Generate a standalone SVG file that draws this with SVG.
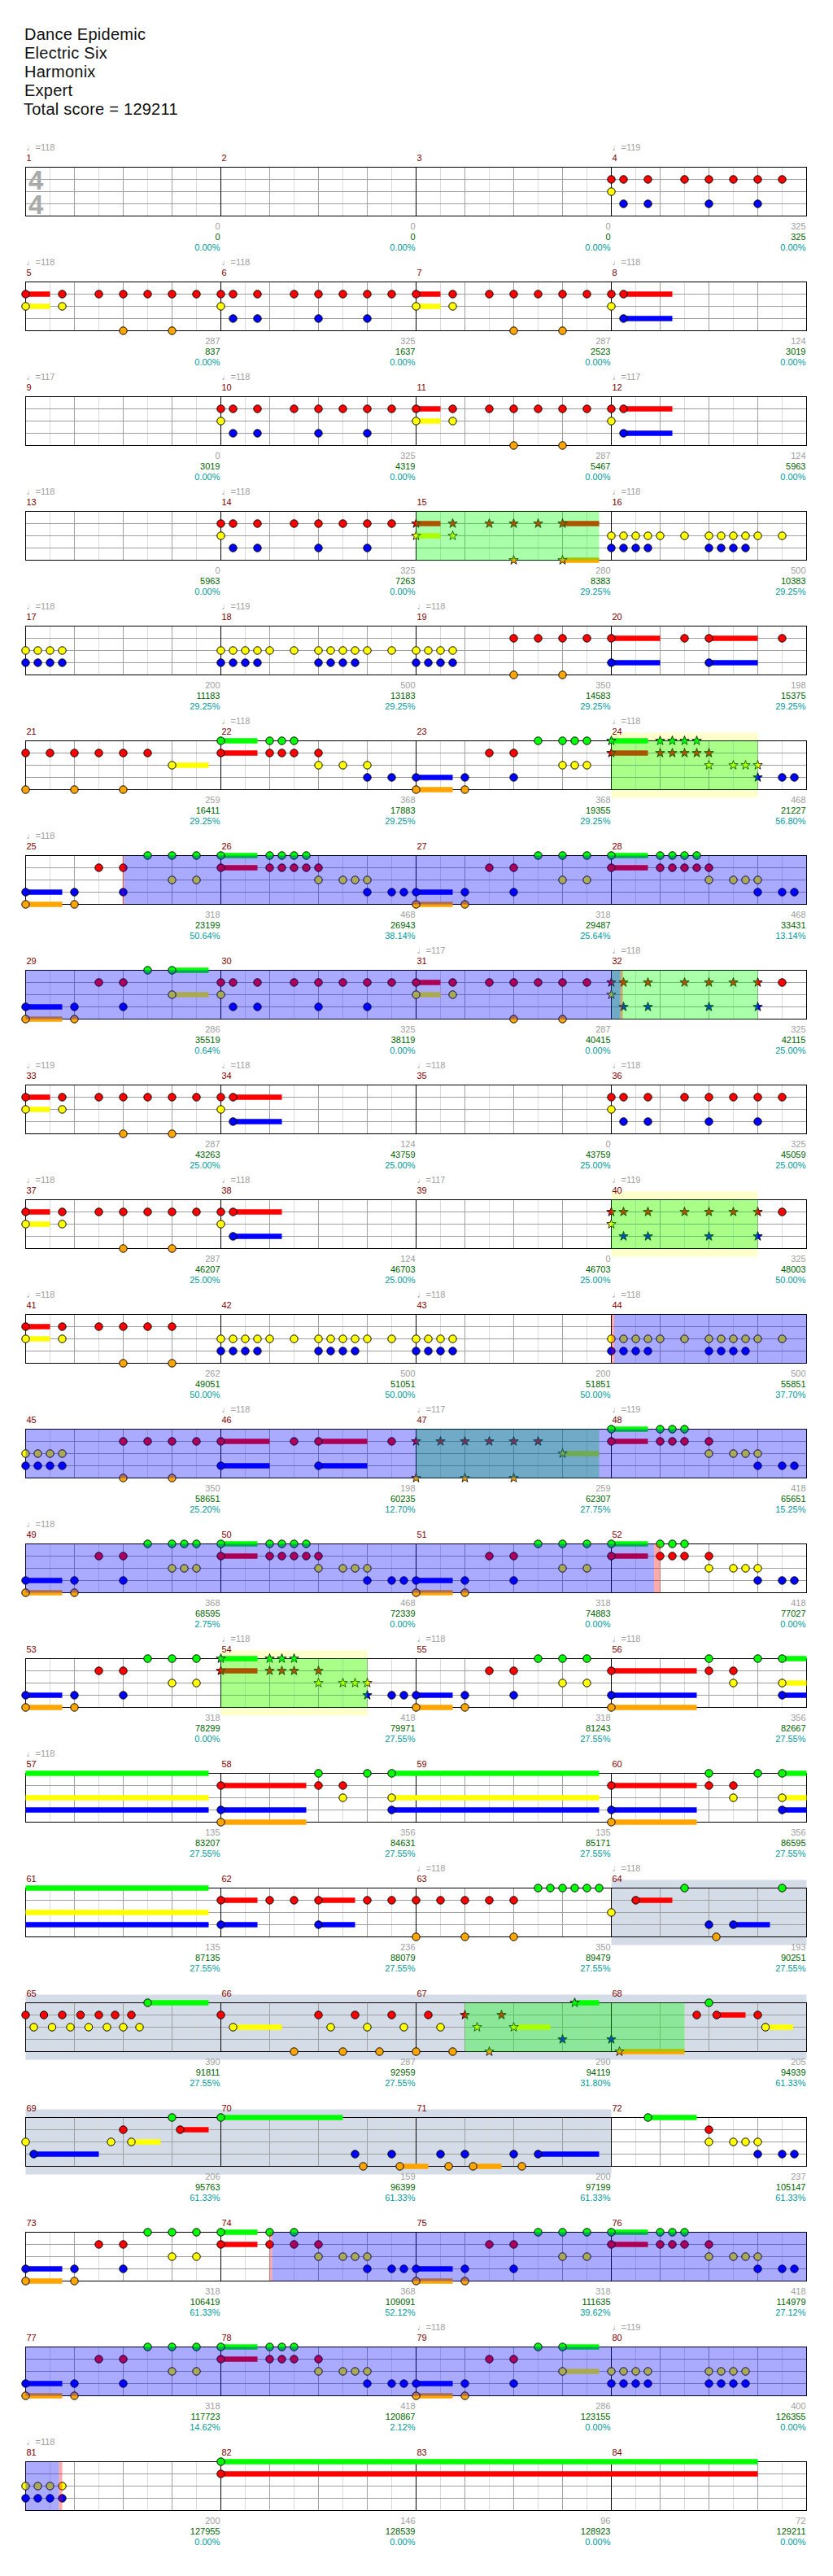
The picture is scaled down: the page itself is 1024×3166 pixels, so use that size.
<svg xmlns="http://www.w3.org/2000/svg" width="1024" height="3166" viewBox="0 0 1024 3166">
<style>
text{font-family:"Liberation Sans",Arial,"DejaVu Sans",sans-serif;font-size:11px}
.hd{font-size:20px;letter-spacing:.25px;fill:#111}
.ts{font-size:33px;font-weight:bold;fill:#aaa}
.tp{fill:#a0a0a0}
.mn{fill:#800000}
.n1,.n2,.n3{text-anchor:end}
.n1{fill:#a0a0a0}.n2{fill:#006400}.n3{fill:#009a9a}
.sg{fill:#0f0}.sr{fill:#f00}.sy{fill:#ff0}.sb{fill:#00f}.so{fill:#ffa500}
.og{fill:#0f0;fill-opacity:.333}.ob{fill:#00f;fill-opacity:.333}.op{fill:#f00;fill-opacity:.333}
.yb{fill:#ffc}.gb{fill:#d4dce8}
</style>
<defs>
<circle id="G" r="4.7" fill="#0f0" stroke="#000"/>
<circle id="R" cy="15" r="4.7" fill="#f00" stroke="#000"/>
<circle id="Y" cy="30" r="4.7" fill="#ff0" stroke="#000"/>
<circle id="B" cy="45" r="4.7" fill="#00f" stroke="#000"/>
<circle id="O" cy="60" r="4.7" fill="#ffa500" stroke="#000"/>
<path id="st" d="M0,-6L1.41,-1.94L5.71,-1.85L2.28,0.74L3.53,4.85L0,2.4L-3.53,4.85L-2.28,0.74L-5.71,-1.85L-1.41,-1.94Z" stroke="#000" stroke-width=".8"/>
<use id="sG" href="#st" fill="#0f0"/>
<use id="sR" href="#st" y="15" fill="#f00"/>
<use id="sY" href="#st" y="30" fill="#ff0"/>
<use id="sB" href="#st" y="45" fill="#00f"/>
<use id="sO" href="#st" y="60" fill="#ffa500"/>
<g id="grid" fill="none">
<path d="M30,0V60M90,0V60M150,0V60M210,0V60M270,0V60M330,0V60M390,0V60M450,0V60M510,0V60M570,0V60M630,0V60M690,0V60M750,0V60M810,0V60M870,0V60M930,0V60" stroke="#dcdcdc"/>
<path d="M0,15H960M0,30H960M0,45H960" stroke="#a0a0a0"/>
<path d="M60,0V60M120,0V60M180,0V60M300,0V60M360,0V60M420,0V60M540,0V60M600,0V60M660,0V60M780,0V60M840,0V60M900,0V60" stroke="#a0a0a0"/>
<path d="M240,0V60M480,0V60M720,0V60" stroke="#000"/>
<rect width="960" height="60" stroke="#000"/>
</g>
<g id="P4"><use href="#R"/><use href="#R" x="15"/><use href="#R" x="45"/><use href="#R" x="90"/><use href="#R" x="120"/><use href="#R" x="150"/><use href="#R" x="180"/><use href="#R" x="210"/><use href="#Y"/><use href="#B" x="15"/><use href="#B" x="45"/><use href="#B" x="120"/><use href="#B" x="180"/></g>
<g id="P5"><rect class="sr" y="11.75" width="30" height="6.5"/><rect class="sy" y="26.75" width="30" height="6.5"/><use href="#R"/><use href="#R" x="45"/><use href="#R" x="90"/><use href="#R" x="120"/><use href="#R" x="150"/><use href="#R" x="180"/><use href="#R" x="210"/><use href="#Y"/><use href="#Y" x="45"/><use href="#O" x="120"/><use href="#O" x="180"/></g>
<g id="P8"><rect class="sr" x="15" y="11.75" width="60" height="6.5"/><rect class="sb" x="15" y="41.75" width="60" height="6.5"/><use href="#R"/><use href="#R" x="15"/><use href="#Y"/><use href="#B" x="15"/></g>
<g id="Q4"><use href="#Y"/><use href="#Y" x="15"/><use href="#Y" x="30"/><use href="#Y" x="45"/><use href="#B"/><use href="#B" x="15"/><use href="#B" x="30"/><use href="#B" x="45"/></g>
<g id="PY2"><use href="#Q4"/><use href="#Y" x="60"/><use href="#Y" x="90"/><use href="#Y" x="120"/><use href="#Y" x="135"/><use href="#Y" x="150"/><use href="#Y" x="165"/><use href="#Y" x="180"/><use href="#Y" x="210"/><use href="#B" x="120"/><use href="#B" x="135"/><use href="#B" x="150"/><use href="#B" x="165"/></g>
<g id="A0"><rect class="sb" y="41.75" width="45" height="6.5"/><rect class="so" y="56.75" width="45" height="6.5"/><use href="#B"/><use href="#B" x="60"/><use href="#B" x="120"/><use href="#O"/><use href="#O" x="60"/><use href="#R" x="90"/><use href="#R" x="120"/></g>
<g id="A"><use href="#A0"/><use href="#G" x="150"/><use href="#G" x="180"/><use href="#G" x="210"/><use href="#Y" x="180"/><use href="#Y" x="210"/></g>
<g id="D0"><rect class="sg" y="-3.25" width="45" height="6.5"/><rect class="sr" y="11.75" width="45" height="6.5"/><use href="#G"/><use href="#G" x="60"/><use href="#G" x="75"/><use href="#G" x="90"/><use href="#R"/><use href="#R" x="60"/><use href="#R" x="75"/><use href="#R" x="90"/><use href="#R" x="120"/><use href="#Y" x="120"/><use href="#Y" x="150"/><use href="#Y" x="165"/><use href="#Y" x="180"/><use href="#B" x="180"/><use href="#B" x="210"/><use href="#B" x="225"/></g>
<g id="D4"><use href="#D0"/><use href="#G" x="105"/><use href="#R" x="105"/></g>
<g id="SP4"><use href="#sR"/><use href="#sR" x="15"/><use href="#sR" x="45"/><use href="#sR" x="90"/><use href="#sR" x="120"/><use href="#sR" x="150"/><use href="#sR" x="180"/><use href="#sY"/><use href="#sB" x="15"/><use href="#sB" x="45"/><use href="#sB" x="120"/><use href="#sB" x="180"/><use href="#R" x="210"/></g>
<g id="E56"><rect class="sr" y="11.75" width="105" height="6.5"/><rect class="sb" y="41.75" width="105" height="6.5"/><rect class="so" y="56.75" width="105" height="6.5"/><use href="#R"/><use href="#R" x="120"/><use href="#R" x="150"/><use href="#B"/><use href="#O"/><use href="#G" x="120"/><use href="#G" x="180"/><use href="#Y" x="150"/></g>
</defs>
<rect width="1024" height="3166" fill="#fff"/>
<g id="header">
<text class="hd" x="30" y="49.3">Dance Epidemic</text>
<text class="hd" x="30" y="72.3">Electric Six</text>
<text class="hd" x="30" y="95.3">Harmonix</text>
<text class="hd" x="30" y="118.3">Expert</text>
<text class="hd" x="29" y="141.3">Total score = 129211</text>
</g>

<g id="r1" transform="translate(0,205.5)">
<use href="#grid" x="31.5"/>
<text class="ts"><tspan x="35" y="27">4</tspan><tspan x="35" y="57">4</tspan></text>
<g id="m1" transform="translate(31.5,0)"><text class="tp" x="1" y="-20.5">♩=118</text><text class="mn" x="1" y="-7.5">1</text><text class="n1" x="239" y="76.5">0</text><text class="n2" x="239" y="89.5">0</text><text class="n3" x="239" y="102.5">0.00%</text></g>
<g id="m2" transform="translate(271.5,0)"><text class="mn" x="1" y="-7.5">2</text><text class="n1" x="239" y="76.5">0</text><text class="n2" x="239" y="89.5">0</text><text class="n3" x="239" y="102.5">0.00%</text></g>
<g id="m3" transform="translate(511.5,0)"><text class="mn" x="1" y="-7.5">3</text><text class="n1" x="239" y="76.5">0</text><text class="n2" x="239" y="89.5">0</text><text class="n3" x="239" y="102.5">0.00%</text></g>
<g id="m4" transform="translate(751.5,0)"><text class="tp" x="1" y="-20.5">♩=119</text><text class="mn" x="1" y="-7.5">4</text><use href="#P4"/><text class="n1" x="239" y="76.5">325</text><text class="n2" x="239" y="89.5">325</text><text class="n3" x="239" y="102.5">0.00%</text></g>
</g>

<g id="r2" transform="translate(0,346.5)">
<use href="#grid" x="31.5"/>
<g id="m5" transform="translate(31.5,0)"><text class="tp" x="1" y="-20.5">♩=118</text><text class="mn" x="1" y="-7.5">5</text><use href="#P5"/><text class="n1" x="239" y="76.5">287</text><text class="n2" x="239" y="89.5">837</text><text class="n3" x="239" y="102.5">0.00%</text></g>
<g id="m6" transform="translate(271.5,0)"><text class="tp" x="1" y="-20.5">♩=118</text><text class="mn" x="1" y="-7.5">6</text><use href="#P4"/><text class="n1" x="239" y="76.5">325</text><text class="n2" x="239" y="89.5">1637</text><text class="n3" x="239" y="102.5">0.00%</text></g>
<g id="m7" transform="translate(511.5,0)"><text class="mn" x="1" y="-7.5">7</text><use href="#P5"/><text class="n1" x="239" y="76.5">287</text><text class="n2" x="239" y="89.5">2523</text><text class="n3" x="239" y="102.5">0.00%</text></g>
<g id="m8" transform="translate(751.5,0)"><text class="tp" x="1" y="-20.5">♩=118</text><text class="mn" x="1" y="-7.5">8</text><use href="#P8"/><text class="n1" x="239" y="76.5">124</text><text class="n2" x="239" y="89.5">3019</text><text class="n3" x="239" y="102.5">0.00%</text></g>
</g>

<g id="r3" transform="translate(0,487.5)">
<use href="#grid" x="31.5"/>
<g id="m9" transform="translate(31.5,0)"><text class="tp" x="1" y="-20.5">♩=117</text><text class="mn" x="1" y="-7.5">9</text><text class="n1" x="239" y="76.5">0</text><text class="n2" x="239" y="89.5">3019</text><text class="n3" x="239" y="102.5">0.00%</text></g>
<g id="m10" transform="translate(271.5,0)"><text class="tp" x="1" y="-20.5">♩=118</text><text class="mn" x="1" y="-7.5">10</text><use href="#P4"/><text class="n1" x="239" y="76.5">325</text><text class="n2" x="239" y="89.5">4319</text><text class="n3" x="239" y="102.5">0.00%</text></g>
<g id="m11" transform="translate(511.5,0)"><text class="mn" x="1" y="-7.5">11</text><use href="#P5"/><text class="n1" x="239" y="76.5">287</text><text class="n2" x="239" y="89.5">5467</text><text class="n3" x="239" y="102.5">0.00%</text></g>
<g id="m12" transform="translate(751.5,0)"><text class="tp" x="1" y="-20.5">♩=117</text><text class="mn" x="1" y="-7.5">12</text><use href="#P8"/><text class="n1" x="239" y="76.5">124</text><text class="n2" x="239" y="89.5">5963</text><text class="n3" x="239" y="102.5">0.00%</text></g>
</g>

<g id="r4" transform="translate(0,628.5)">
<use href="#grid" x="31.5"/>
<g id="m13" transform="translate(31.5,0)"><text class="tp" x="1" y="-20.5">♩=118</text><text class="mn" x="1" y="-7.5">13</text><text class="n1" x="239" y="76.5">0</text><text class="n2" x="239" y="89.5">5963</text><text class="n3" x="239" y="102.5">0.00%</text></g>
<g id="m14" transform="translate(271.5,0)"><text class="tp" x="1" y="-20.5">♩=118</text><text class="mn" x="1" y="-7.5">14</text><use href="#P4"/><text class="n1" x="239" y="76.5">325</text><text class="n2" x="239" y="89.5">7263</text><text class="n3" x="239" y="102.5">0.00%</text></g>
<g id="m15" transform="translate(511.5,0)"><text class="mn" x="1" y="-7.5">15</text><rect class="sr" y="11.75" width="30" height="6.5"/><rect class="sy" y="26.75" width="30" height="6.5"/><rect class="sr" x="180" y="11.75" width="45" height="6.5"/><rect class="so" x="180" y="56.75" width="45" height="6.5"/><use href="#sR"/><use href="#sR" x="45"/><use href="#sR" x="90"/><use href="#sR" x="120"/><use href="#sR" x="150"/><use href="#sR" x="180"/><use href="#sY"/><use href="#sY" x="45"/><use href="#sO" x="120"/><use href="#sO" x="180"/><text class="n1" x="239" y="76.5">280</text><text class="n2" x="239" y="89.5">8383</text><text class="n3" x="239" y="102.5">29.25%</text></g>
<g id="m16" transform="translate(751.5,0)"><text class="tp" x="1" y="-20.5">♩=118</text><text class="mn" x="1" y="-7.5">16</text><use href="#PY2"/><text class="n1" x="239" y="76.5">500</text><text class="n2" x="239" y="89.5">10383</text><text class="n3" x="239" y="102.5">29.25%</text></g>
<rect class="og" x="511.5" width="225" height="60"/>
</g>

<g id="r5" transform="translate(0,769.5)">
<use href="#grid" x="31.5"/>
<g id="m17" transform="translate(31.5,0)"><text class="tp" x="1" y="-20.5">♩=118</text><text class="mn" x="1" y="-7.5">17</text><use href="#Q4"/><text class="n1" x="239" y="76.5">200</text><text class="n2" x="239" y="89.5">11183</text><text class="n3" x="239" y="102.5">29.25%</text></g>
<g id="m18" transform="translate(271.5,0)"><text class="tp" x="1" y="-20.5">♩=119</text><text class="mn" x="1" y="-7.5">18</text><use href="#PY2"/><text class="n1" x="239" y="76.5">500</text><text class="n2" x="239" y="89.5">13183</text><text class="n3" x="239" y="102.5">29.25%</text></g>
<g id="m19" transform="translate(511.5,0)"><text class="tp" x="1" y="-20.5">♩=118</text><text class="mn" x="1" y="-7.5">19</text><use href="#Q4"/><use href="#R" x="120"/><use href="#R" x="150"/><use href="#R" x="180"/><use href="#R" x="210"/><use href="#O" x="120"/><use href="#O" x="180"/><text class="n1" x="239" y="76.5">350</text><text class="n2" x="239" y="89.5">14583</text><text class="n3" x="239" y="102.5">29.25%</text></g>
<g id="m20" transform="translate(751.5,0)"><text class="mn" x="1" y="-7.5">20</text><rect class="sr" y="11.75" width="60" height="6.5"/><rect class="sr" x="120" y="11.75" width="60" height="6.5"/><rect class="sb" y="41.75" width="60" height="6.5"/><rect class="sb" x="120" y="41.75" width="60" height="6.5"/><use href="#R"/><use href="#R" x="90"/><use href="#R" x="120"/><use href="#R" x="210"/><use href="#B"/><use href="#B" x="120"/><text class="n1" x="239" y="76.5">198</text><text class="n2" x="239" y="89.5">15375</text><text class="n3" x="239" y="102.5">29.25%</text></g>
</g>

<g id="r6" transform="translate(0,910.5)">
<rect class="yb" x="751.5" y="-10" width="180" height="80"/>
<use href="#grid" x="31.5"/>
<g id="m21" transform="translate(31.5,0)"><text class="mn" x="1" y="-7.5">21</text><rect class="sy" x="180" y="26.75" width="45" height="6.5"/><use href="#R"/><use href="#R" x="30"/><use href="#R" x="60"/><use href="#R" x="90"/><use href="#R" x="120"/><use href="#R" x="150"/><use href="#O"/><use href="#O" x="60"/><use href="#O" x="120"/><use href="#Y" x="180"/><text class="n1" x="239" y="76.5">259</text><text class="n2" x="239" y="89.5">16411</text><text class="n3" x="239" y="102.5">29.25%</text></g>
<g id="m22" transform="translate(271.5,0)"><text class="tp" x="1" y="-20.5">♩=118</text><text class="mn" x="1" y="-7.5">22</text><rect class="sg" y="-3.25" width="45" height="6.5"/><rect class="sr" y="11.75" width="45" height="6.5"/><use href="#G"/><use href="#G" x="60"/><use href="#G" x="75"/><use href="#G" x="90"/><use href="#R"/><use href="#R" x="60"/><use href="#R" x="75"/><use href="#R" x="90"/><use href="#R" x="120"/><use href="#Y" x="120"/><use href="#Y" x="150"/><use href="#Y" x="180"/><use href="#B" x="180"/><use href="#B" x="210"/><text class="n1" x="239" y="76.5">368</text><text class="n2" x="239" y="89.5">17883</text><text class="n3" x="239" y="102.5">29.25%</text></g>
<g id="m23" transform="translate(511.5,0)"><text class="mn" x="1" y="-7.5">23</text><use href="#A0"/><use href="#G" x="150"/><use href="#G" x="180"/><use href="#G" x="195"/><use href="#G" x="210"/><use href="#Y" x="180"/><use href="#Y" x="195"/><use href="#Y" x="210"/><text class="n1" x="239" y="76.5">368</text><text class="n2" x="239" y="89.5">19355</text><text class="n3" x="239" y="102.5">29.25%</text></g>
<g id="m24" transform="translate(751.5,0)"><text class="tp" x="1" y="-20.5">♩=118</text><text class="mn" x="1" y="-7.5">24</text><rect class="sg" y="-3.25" width="45" height="6.5"/><rect class="sr" y="11.75" width="45" height="6.5"/><use href="#sG"/><use href="#sG" x="60"/><use href="#sG" x="75"/><use href="#sG" x="90"/><use href="#sG" x="105"/><use href="#sR"/><use href="#sR" x="60"/><use href="#sR" x="75"/><use href="#sR" x="90"/><use href="#sR" x="105"/><use href="#sR" x="120"/><use href="#sY" x="120"/><use href="#sY" x="150"/><use href="#sY" x="165"/><use href="#sY" x="180"/><use href="#sB" x="180"/><use href="#B" x="210"/><use href="#B" x="225"/><text class="n1" x="239" y="76.5">468</text><text class="n2" x="239" y="89.5">21227</text><text class="n3" x="239" y="102.5">56.80%</text></g>
<rect class="og" x="751.5" width="180" height="60"/>
</g>

<g id="r7" transform="translate(0,1051.5)">
<use href="#grid" x="31.5"/>
<g id="m25" transform="translate(31.5,0)"><text class="tp" x="1" y="-20.5">♩=118</text><text class="mn" x="1" y="-7.5">25</text><use href="#A"/><text class="n1" x="239" y="76.5">318</text><text class="n2" x="239" y="89.5">23199</text><text class="n3" x="239" y="102.5">50.64%</text></g>
<g id="m26" transform="translate(271.5,0)"><text class="mn" x="1" y="-7.5">26</text><use href="#D4"/><text class="n1" x="239" y="76.5">468</text><text class="n2" x="239" y="89.5">26943</text><text class="n3" x="239" y="102.5">38.14%</text></g>
<g id="m27" transform="translate(511.5,0)"><text class="mn" x="1" y="-7.5">27</text><use href="#A"/><text class="n1" x="239" y="76.5">318</text><text class="n2" x="239" y="89.5">29487</text><text class="n3" x="239" y="102.5">25.64%</text></g>
<g id="m28" transform="translate(751.5,0)"><text class="mn" x="1" y="-7.5">28</text><use href="#D4"/><text class="n1" x="239" y="76.5">468</text><text class="n2" x="239" y="89.5">33431</text><text class="n3" x="239" y="102.5">13.14%</text></g>
<rect class="op" x="150.5" width="2" height="60"/>
<rect class="ob" x="152.5" width="839" height="60"/>
</g>

<g id="r8" transform="translate(0,1192.5)">
<use href="#grid" x="31.5"/>
<g id="m29" transform="translate(31.5,0)"><text class="mn" x="1" y="-7.5">29</text><rect class="sg" x="180" y="-3.25" width="45" height="6.5"/><rect class="sy" x="180" y="26.75" width="45" height="6.5"/><use href="#A0"/><use href="#G" x="150"/><use href="#G" x="180"/><use href="#Y" x="180"/><text class="n1" x="239" y="76.5">286</text><text class="n2" x="239" y="89.5">35519</text><text class="n3" x="239" y="102.5">0.64%</text></g>
<g id="m30" transform="translate(271.5,0)"><text class="mn" x="1" y="-7.5">30</text><use href="#P4"/><text class="n1" x="239" y="76.5">325</text><text class="n2" x="239" y="89.5">38119</text><text class="n3" x="239" y="102.5">0.00%</text></g>
<g id="m31" transform="translate(511.5,0)"><text class="tp" x="1" y="-20.5">♩=117</text><text class="mn" x="1" y="-7.5">31</text><use href="#P5"/><text class="n1" x="239" y="76.5">287</text><text class="n2" x="239" y="89.5">40415</text><text class="n3" x="239" y="102.5">0.00%</text></g>
<g id="m32" transform="translate(751.5,0)"><text class="tp" x="1" y="-20.5">♩=118</text><text class="mn" x="1" y="-7.5">32</text><use href="#SP4"/><text class="n1" x="239" y="76.5">325</text><text class="n2" x="239" y="89.5">42115</text><text class="n3" x="239" y="102.5">25.00%</text></g>
<rect class="og" x="751.5" width="180" height="60"/>
<rect class="ob" x="31.5" width="731" height="60"/>
<rect class="op" x="762.5" width="3" height="60"/>
</g>

<g id="r9" transform="translate(0,1333.5)">
<use href="#grid" x="31.5"/>
<g id="m33" transform="translate(31.5,0)"><text class="tp" x="1" y="-20.5">♩=119</text><text class="mn" x="1" y="-7.5">33</text><use href="#P5"/><text class="n1" x="239" y="76.5">287</text><text class="n2" x="239" y="89.5">43263</text><text class="n3" x="239" y="102.5">25.00%</text></g>
<g id="m34" transform="translate(271.5,0)"><text class="tp" x="1" y="-20.5">♩=118</text><text class="mn" x="1" y="-7.5">34</text><use href="#P8"/><text class="n1" x="239" y="76.5">124</text><text class="n2" x="239" y="89.5">43759</text><text class="n3" x="239" y="102.5">25.00%</text></g>
<g id="m35" transform="translate(511.5,0)"><text class="tp" x="1" y="-20.5">♩=118</text><text class="mn" x="1" y="-7.5">35</text><text class="n1" x="239" y="76.5">0</text><text class="n2" x="239" y="89.5">43759</text><text class="n3" x="239" y="102.5">25.00%</text></g>
<g id="m36" transform="translate(751.5,0)"><text class="tp" x="1" y="-20.5">♩=118</text><text class="mn" x="1" y="-7.5">36</text><use href="#P4"/><text class="n1" x="239" y="76.5">325</text><text class="n2" x="239" y="89.5">45059</text><text class="n3" x="239" y="102.5">25.00%</text></g>
</g>

<g id="r10" transform="translate(0,1474.5)">
<rect class="yb" x="751.5" y="-10" width="180" height="80"/>
<use href="#grid" x="31.5"/>
<g id="m37" transform="translate(31.5,0)"><text class="tp" x="1" y="-20.5">♩=118</text><text class="mn" x="1" y="-7.5">37</text><use href="#P5"/><text class="n1" x="239" y="76.5">287</text><text class="n2" x="239" y="89.5">46207</text><text class="n3" x="239" y="102.5">25.00%</text></g>
<g id="m38" transform="translate(271.5,0)"><text class="tp" x="1" y="-20.5">♩=118</text><text class="mn" x="1" y="-7.5">38</text><use href="#P8"/><text class="n1" x="239" y="76.5">124</text><text class="n2" x="239" y="89.5">46703</text><text class="n3" x="239" y="102.5">25.00%</text></g>
<g id="m39" transform="translate(511.5,0)"><text class="tp" x="1" y="-20.5">♩=117</text><text class="mn" x="1" y="-7.5">39</text><text class="n1" x="239" y="76.5">0</text><text class="n2" x="239" y="89.5">46703</text><text class="n3" x="239" y="102.5">25.00%</text></g>
<g id="m40" transform="translate(751.5,0)"><text class="tp" x="1" y="-20.5">♩=119</text><text class="mn" x="1" y="-7.5">40</text><use href="#SP4"/><text class="n1" x="239" y="76.5">325</text><text class="n2" x="239" y="89.5">48003</text><text class="n3" x="239" y="102.5">50.00%</text></g>
<rect class="og" x="751.5" width="180" height="60"/>
</g>

<g id="r11" transform="translate(0,1615.5)">
<use href="#grid" x="31.5"/>
<g id="m41" transform="translate(31.5,0)"><text class="tp" x="1" y="-20.5">♩=118</text><text class="mn" x="1" y="-7.5">41</text><rect class="sr" y="11.75" width="30" height="6.5"/><rect class="sy" y="26.75" width="30" height="6.5"/><use href="#R"/><use href="#R" x="45"/><use href="#R" x="90"/><use href="#R" x="120"/><use href="#R" x="150"/><use href="#R" x="180"/><use href="#Y"/><use href="#Y" x="45"/><use href="#O" x="120"/><use href="#O" x="180"/><text class="n1" x="239" y="76.5">262</text><text class="n2" x="239" y="89.5">49051</text><text class="n3" x="239" y="102.5">50.00%</text></g>
<g id="m42" transform="translate(271.5,0)"><text class="mn" x="1" y="-7.5">42</text><use href="#PY2"/><text class="n1" x="239" y="76.5">500</text><text class="n2" x="239" y="89.5">51051</text><text class="n3" x="239" y="102.5">50.00%</text></g>
<g id="m43" transform="translate(511.5,0)"><text class="tp" x="1" y="-20.5">♩=118</text><text class="mn" x="1" y="-7.5">43</text><use href="#Q4"/><text class="n1" x="239" y="76.5">200</text><text class="n2" x="239" y="89.5">51851</text><text class="n3" x="239" y="102.5">50.00%</text></g>
<g id="m44" transform="translate(751.5,0)"><text class="tp" x="1" y="-20.5">♩=118</text><text class="mn" x="1" y="-7.5">44</text><use href="#PY2"/><text class="n1" x="239" y="76.5">500</text><text class="n2" x="239" y="89.5">55851</text><text class="n3" x="239" y="102.5">37.70%</text></g>
<rect class="op" x="751.5" width="3.5" height="60"/>
<rect class="ob" x="755" width="236.5" height="60"/>
</g>

<g id="r12" transform="translate(0,1756.5)">
<use href="#grid" x="31.5"/>
<g id="m45" transform="translate(31.5,0)"><text class="mn" x="1" y="-7.5">45</text><use href="#Q4"/><use href="#R" x="120"/><use href="#R" x="150"/><use href="#R" x="180"/><use href="#R" x="210"/><use href="#O" x="120"/><use href="#O" x="180"/><text class="n1" x="239" y="76.5">350</text><text class="n2" x="239" y="89.5">58651</text><text class="n3" x="239" y="102.5">25.20%</text></g>
<g id="m46" transform="translate(271.5,0)"><text class="tp" x="1" y="-20.5">♩=118</text><text class="mn" x="1" y="-7.5">46</text><rect class="sr" y="11.75" width="60" height="6.5"/><rect class="sr" x="120" y="11.75" width="60" height="6.5"/><rect class="sb" y="41.75" width="60" height="6.5"/><rect class="sb" x="120" y="41.75" width="60" height="6.5"/><use href="#R"/><use href="#R" x="90"/><use href="#R" x="120"/><use href="#R" x="210"/><use href="#B"/><use href="#B" x="120"/><text class="n1" x="239" y="76.5">198</text><text class="n2" x="239" y="89.5">60235</text><text class="n3" x="239" y="102.5">12.70%</text></g>
<g id="m47" transform="translate(511.5,0)"><text class="tp" x="1" y="-20.5">♩=117</text><text class="mn" x="1" y="-7.5">47</text><rect class="sy" x="180" y="26.75" width="45" height="6.5"/><use href="#sR"/><use href="#sR" x="30"/><use href="#sR" x="60"/><use href="#sR" x="90"/><use href="#sR" x="120"/><use href="#sR" x="150"/><use href="#sO"/><use href="#sO" x="60"/><use href="#sO" x="120"/><use href="#sY" x="180"/><text class="n1" x="239" y="76.5">259</text><text class="n2" x="239" y="89.5">62307</text><text class="n3" x="239" y="102.5">27.75%</text></g>
<g id="m48" transform="translate(751.5,0)"><text class="tp" x="1" y="-20.5">♩=119</text><text class="mn" x="1" y="-7.5">48</text><use href="#D0"/><text class="n1" x="239" y="76.5">418</text><text class="n2" x="239" y="89.5">65651</text><text class="n3" x="239" y="102.5">15.25%</text></g>
<rect class="og" x="511.5" width="225" height="60"/>
<rect class="ob" x="31.5" width="960" height="60"/>
</g>

<g id="r13" transform="translate(0,1897.5)">
<use href="#grid" x="31.5"/>
<g id="m49" transform="translate(31.5,0)"><text class="tp" x="1" y="-20.5">♩=118</text><text class="mn" x="1" y="-7.5">49</text><use href="#A0"/><use href="#G" x="150"/><use href="#G" x="180"/><use href="#G" x="195"/><use href="#G" x="210"/><use href="#Y" x="180"/><use href="#Y" x="195"/><use href="#Y" x="210"/><text class="n1" x="239" y="76.5">368</text><text class="n2" x="239" y="89.5">68595</text><text class="n3" x="239" y="102.5">2.75%</text></g>
<g id="m50" transform="translate(271.5,0)"><text class="mn" x="1" y="-7.5">50</text><use href="#D4"/><text class="n1" x="239" y="76.5">468</text><text class="n2" x="239" y="89.5">72339</text><text class="n3" x="239" y="102.5">0.00%</text></g>
<g id="m51" transform="translate(511.5,0)"><text class="mn" x="1" y="-7.5">51</text><use href="#A"/><text class="n1" x="239" y="76.5">318</text><text class="n2" x="239" y="89.5">74883</text><text class="n3" x="239" y="102.5">0.00%</text></g>
<g id="m52" transform="translate(751.5,0)"><text class="mn" x="1" y="-7.5">52</text><use href="#D0"/><text class="n1" x="239" y="76.5">418</text><text class="n2" x="239" y="89.5">77027</text><text class="n3" x="239" y="102.5">0.00%</text></g>
<rect class="ob" x="31.5" width="772.5" height="60"/>
<rect class="op" x="804" width="7.5" height="60"/>
</g>

<g id="r14" transform="translate(0,2038.5)">
<rect class="yb" x="271.5" y="-10" width="180" height="80"/>
<use href="#grid" x="31.5"/>
<g id="m53" transform="translate(31.5,0)"><text class="mn" x="1" y="-7.5">53</text><use href="#A"/><text class="n1" x="239" y="76.5">318</text><text class="n2" x="239" y="89.5">78299</text><text class="n3" x="239" y="102.5">0.00%</text></g>
<g id="m54" transform="translate(271.5,0)"><text class="tp" x="1" y="-20.5">♩=118</text><text class="mn" x="1" y="-7.5">54</text><rect class="sg" y="-3.25" width="45" height="6.5"/><rect class="sr" y="11.75" width="45" height="6.5"/><use href="#sG"/><use href="#sG" x="60"/><use href="#sG" x="75"/><use href="#sG" x="90"/><use href="#sR"/><use href="#sR" x="60"/><use href="#sR" x="75"/><use href="#sR" x="90"/><use href="#sR" x="120"/><use href="#sY" x="120"/><use href="#sY" x="150"/><use href="#sY" x="165"/><use href="#sY" x="180"/><use href="#sB" x="180"/><use href="#B" x="210"/><use href="#B" x="225"/><text class="n1" x="239" y="76.5">418</text><text class="n2" x="239" y="89.5">79971</text><text class="n3" x="239" y="102.5">27.55%</text></g>
<g id="m55" transform="translate(511.5,0)"><text class="tp" x="1" y="-20.5">♩=118</text><text class="mn" x="1" y="-7.5">55</text><use href="#A"/><text class="n1" x="239" y="76.5">318</text><text class="n2" x="239" y="89.5">81243</text><text class="n3" x="239" y="102.5">27.55%</text></g>
<g id="m56" transform="translate(751.5,0)"><text class="tp" x="1" y="-20.5">♩=118</text><text class="mn" x="1" y="-7.5">56</text><rect class="sg" x="210" y="-3.25" width="30" height="6.5"/><rect class="sy" x="210" y="26.75" width="30" height="6.5"/><rect class="sb" x="210" y="41.75" width="30" height="6.5"/><use href="#E56"/><use href="#G" x="210"/><use href="#Y" x="210"/><use href="#B" x="210"/><text class="n1" x="239" y="76.5">356</text><text class="n2" x="239" y="89.5">82667</text><text class="n3" x="239" y="102.5">27.55%</text></g>
<rect class="og" x="271.5" width="180" height="60"/>
</g>

<g id="r15" transform="translate(0,2179.5)">
<use href="#grid" x="31.5"/>
<g id="m57" transform="translate(31.5,0)"><text class="tp" x="1" y="-20.5">♩=118</text><text class="mn" x="1" y="-7.5">57</text><rect class="sg" y="-3.25" width="225" height="6.5"/><rect class="sy" y="26.75" width="225" height="6.5"/><rect class="sb" y="41.75" width="225" height="6.5"/><text class="n1" x="239" y="76.5">135</text><text class="n2" x="239" y="89.5">83207</text><text class="n3" x="239" y="102.5">27.55%</text></g>
<g id="m58" transform="translate(271.5,0)"><text class="mn" x="1" y="-7.5">58</text><rect class="sg" x="210" y="-3.25" width="255" height="6.5"/><rect class="sy" x="210" y="26.75" width="255" height="6.5"/><rect class="sb" x="210" y="41.75" width="255" height="6.5"/><use href="#E56"/><use href="#G" x="210"/><use href="#Y" x="210"/><use href="#B" x="210"/><text class="n1" x="239" y="76.5">356</text><text class="n2" x="239" y="89.5">84631</text><text class="n3" x="239" y="102.5">27.55%</text></g>
<g id="m59" transform="translate(511.5,0)"><text class="mn" x="1" y="-7.5">59</text><text class="n1" x="239" y="76.5">135</text><text class="n2" x="239" y="89.5">85171</text><text class="n3" x="239" y="102.5">27.55%</text></g>
<g id="m60" transform="translate(751.5,0)"><text class="mn" x="1" y="-7.5">60</text><rect class="sg" x="210" y="-3.25" width="30" height="6.5"/><rect class="sy" x="210" y="26.75" width="30" height="6.5"/><rect class="sb" x="210" y="41.75" width="30" height="6.5"/><use href="#E56"/><use href="#G" x="210"/><use href="#Y" x="210"/><use href="#B" x="210"/><text class="n1" x="239" y="76.5">356</text><text class="n2" x="239" y="89.5">86595</text><text class="n3" x="239" y="102.5">27.55%</text></g>
</g>

<g id="r16" transform="translate(0,2320.5)">
<rect class="gb" x="751.5" y="-10" width="240" height="80"/>
<use href="#grid" x="31.5"/>
<g id="m61" transform="translate(31.5,0)"><text class="mn" x="1" y="-7.5">61</text><rect class="sg" y="-3.25" width="225" height="6.5"/><rect class="sy" y="26.75" width="225" height="6.5"/><rect class="sb" y="41.75" width="225" height="6.5"/><text class="n1" x="239" y="76.5">135</text><text class="n2" x="239" y="89.5">87135</text><text class="n3" x="239" y="102.5">27.55%</text></g>
<g id="m62" transform="translate(271.5,0)"><text class="mn" x="1" y="-7.5">62</text><rect class="sr" y="11.75" width="45" height="6.5"/><rect class="sr" x="120" y="11.75" width="45" height="6.5"/><rect class="sb" y="41.75" width="45" height="6.5"/><rect class="sb" x="120" y="41.75" width="45" height="6.5"/><use href="#R"/><use href="#R" x="60"/><use href="#R" x="90"/><use href="#R" x="120"/><use href="#R" x="180"/><use href="#R" x="210"/><use href="#B"/><use href="#B" x="120"/><text class="n1" x="239" y="76.5">236</text><text class="n2" x="239" y="89.5">88079</text><text class="n3" x="239" y="102.5">27.55%</text></g>
<g id="m63" transform="translate(511.5,0)"><text class="tp" x="1" y="-20.5">♩=118</text><text class="mn" x="1" y="-7.5">63</text><use href="#R"/><use href="#R" x="30"/><use href="#R" x="60"/><use href="#R" x="90"/><use href="#R" x="120"/><use href="#O"/><use href="#O" x="60"/><use href="#O" x="120"/><use href="#G" x="150"/><use href="#G" x="165"/><use href="#G" x="180"/><use href="#G" x="195"/><use href="#G" x="210"/><use href="#G" x="225"/><text class="n1" x="239" y="76.5">350</text><text class="n2" x="239" y="89.5">89479</text><text class="n3" x="239" y="102.5">27.55%</text></g>
<g id="m64" transform="translate(751.5,0)"><text class="tp" x="1" y="-20.5">♩=118</text><text class="mn" x="1" y="-7.5">64</text><rect class="sr" x="30" y="11.75" width="45" height="6.5"/><rect class="sb" x="150" y="41.75" width="45" height="6.5"/><use href="#Y"/><use href="#R" x="30"/><use href="#G" x="90"/><use href="#G" x="210"/><use href="#B" x="120"/><use href="#B" x="150"/><use href="#O" x="129"/><text class="n1" x="239" y="76.5">193</text><text class="n2" x="239" y="89.5">90251</text><text class="n3" x="239" y="102.5">27.55%</text></g>
</g>

<g id="r17" transform="translate(0,2461.5)">
<rect class="gb" x="31.5" y="-10" width="960" height="80"/>
<use href="#grid" x="31.5"/>
<g id="m65" transform="translate(31.5,0)"><text class="mn" x="1" y="-7.5">65</text><rect class="sg" x="150" y="-3.25" width="75" height="6.5"/><use href="#R"/><use href="#R" x="22.5"/><use href="#R" x="45"/><use href="#R" x="67.5"/><use href="#R" x="90"/><use href="#R" x="110"/><use href="#R" x="130"/><use href="#Y" x="10"/><use href="#Y" x="32.5"/><use href="#Y" x="55"/><use href="#Y" x="77.5"/><use href="#Y" x="100"/><use href="#Y" x="120"/><use href="#Y" x="140"/><use href="#G" x="150"/><text class="n1" x="239" y="76.5">390</text><text class="n2" x="239" y="89.5">91811</text><text class="n3" x="239" y="102.5">27.55%</text></g>
<g id="m66" transform="translate(271.5,0)"><text class="mn" x="1" y="-7.5">66</text><rect class="sy" x="15" y="26.75" width="60" height="6.5"/><use href="#R"/><use href="#R" x="120"/><use href="#R" x="165"/><use href="#R" x="210"/><use href="#Y" x="15"/><use href="#Y" x="135"/><use href="#Y" x="180"/><use href="#Y" x="225"/><use href="#O" x="90"/><use href="#O" x="150"/><use href="#O" x="195"/><text class="n1" x="239" y="76.5">287</text><text class="n2" x="239" y="89.5">92959</text><text class="n3" x="239" y="102.5">27.55%</text></g>
<g id="m67" transform="translate(511.5,0)"><text class="mn" x="1" y="-7.5">67</text><rect class="sy" x="120" y="26.75" width="45" height="6.5"/><rect class="sg" x="195" y="-3.25" width="30" height="6.5"/><use href="#O"/><use href="#O" x="45"/><use href="#R" x="15"/><use href="#Y" x="30"/><use href="#sR" x="60"/><use href="#sR" x="105"/><use href="#sY" x="75"/><use href="#sY" x="120"/><use href="#sO" x="90"/><use href="#sB" x="180"/><use href="#sG" x="195"/><text class="n1" x="239" y="76.5">290</text><text class="n2" x="239" y="89.5">94119</text><text class="n3" x="239" y="102.5">31.80%</text></g>
<g id="m68" transform="translate(751.5,0)"><text class="mn" x="1" y="-7.5">68</text><rect class="so" x="10" y="56.75" width="80" height="6.5"/><rect class="sr" x="129.5" y="11.75" width="35.5" height="6.5"/><rect class="sy" x="189.5" y="26.75" width="34" height="6.5"/><use href="#sB"/><use href="#sO" x="10"/><use href="#G" x="120"/><use href="#R" x="105"/><use href="#R" x="129.5"/><use href="#R" x="180"/><use href="#Y" x="189.5"/><text class="n1" x="239" y="76.5">205</text><text class="n2" x="239" y="89.5">94939</text><text class="n3" x="239" y="102.5">61.33%</text></g>
<rect class="og" x="571.5" width="270" height="60"/>
</g>

<g id="r18" transform="translate(0,2602.5)">
<rect class="gb" x="31.5" y="-10" width="720" height="80"/>
<use href="#grid" x="31.5"/>
<g id="m69" transform="translate(31.5,0)"><text class="mn" x="1" y="-7.5">69</text><rect class="sb" x="10" y="41.75" width="80" height="6.5"/><rect class="sy" x="130" y="26.75" width="36" height="6.5"/><rect class="sr" x="190" y="11.75" width="35" height="6.5"/><use href="#Y"/><use href="#B" x="10"/><use href="#Y" x="105"/><use href="#R" x="120"/><use href="#Y" x="130"/><use href="#G" x="180"/><use href="#R" x="190"/><text class="n1" x="239" y="76.5">206</text><text class="n2" x="239" y="89.5">95763</text><text class="n3" x="239" y="102.5">61.33%</text></g>
<g id="m70" transform="translate(271.5,0)"><text class="mn" x="1" y="-7.5">70</text><rect class="sg" y="-3.25" width="150" height="6.5"/><rect class="so" x="220" y="56.75" width="35" height="6.5"/><use href="#G"/><use href="#B" x="165"/><use href="#B" x="210"/><use href="#O" x="175"/><use href="#O" x="220"/><text class="n1" x="239" y="76.5">159</text><text class="n2" x="239" y="89.5">96399</text><text class="n3" x="239" y="102.5">61.33%</text></g>
<g id="m71" transform="translate(511.5,0)"><text class="mn" x="1" y="-7.5">71</text><rect class="sb" x="150" y="41.75" width="75" height="6.5"/><rect class="so" x="70" y="56.75" width="35" height="6.5"/><use href="#B" x="30"/><use href="#B" x="60"/><use href="#B" x="120"/><use href="#B" x="150"/><use href="#O" x="40"/><use href="#O" x="70"/><use href="#O" x="130"/><text class="n1" x="239" y="76.5">200</text><text class="n2" x="239" y="89.5">97199</text><text class="n3" x="239" y="102.5">61.33%</text></g>
<g id="m72" transform="translate(751.5,0)"><text class="mn" x="1" y="-7.5">72</text><rect class="sg" x="45" y="-3.25" width="60" height="6.5"/><use href="#G" x="45"/><use href="#R" x="120"/><use href="#Y" x="120"/><use href="#Y" x="150"/><use href="#Y" x="165"/><use href="#Y" x="180"/><use href="#B" x="180"/><use href="#B" x="210"/><use href="#B" x="225"/><text class="n1" x="239" y="76.5">237</text><text class="n2" x="239" y="89.5">105147</text><text class="n3" x="239" y="102.5">61.33%</text></g>
</g>

<g id="r19" transform="translate(0,2743.5)">
<use href="#grid" x="31.5"/>
<g id="m73" transform="translate(31.5,0)"><text class="mn" x="1" y="-7.5">73</text><use href="#A"/><text class="n1" x="239" y="76.5">318</text><text class="n2" x="239" y="89.5">106419</text><text class="n3" x="239" y="102.5">61.33%</text></g>
<g id="m74" transform="translate(271.5,0)"><text class="mn" x="1" y="-7.5">74</text><rect class="sg" y="-3.25" width="45" height="6.5"/><rect class="sr" y="11.75" width="45" height="6.5"/><use href="#G"/><use href="#G" x="60"/><use href="#G" x="90"/><use href="#R"/><use href="#R" x="60"/><use href="#R" x="90"/><use href="#R" x="120"/><use href="#Y" x="120"/><use href="#Y" x="150"/><use href="#Y" x="165"/><use href="#Y" x="180"/><use href="#B" x="180"/><use href="#B" x="210"/><use href="#B" x="225"/><text class="n1" x="239" y="76.5">368</text><text class="n2" x="239" y="89.5">109091</text><text class="n3" x="239" y="102.5">52.12%</text></g>
<g id="m75" transform="translate(511.5,0)"><text class="mn" x="1" y="-7.5">75</text><use href="#A"/><text class="n1" x="239" y="76.5">318</text><text class="n2" x="239" y="89.5">111635</text><text class="n3" x="239" y="102.5">39.62%</text></g>
<g id="m76" transform="translate(751.5,0)"><text class="mn" x="1" y="-7.5">76</text><use href="#D0"/><text class="n1" x="239" y="76.5">418</text><text class="n2" x="239" y="89.5">114979</text><text class="n3" x="239" y="102.5">27.12%</text></g>
<rect class="op" x="331.5" width="3" height="60"/>
<rect class="ob" x="334.5" width="657" height="60"/>
</g>

<g id="r20" transform="translate(0,2884.5)">
<use href="#grid" x="31.5"/>
<g id="m77" transform="translate(31.5,0)"><text class="mn" x="1" y="-7.5">77</text><use href="#A"/><text class="n1" x="239" y="76.5">318</text><text class="n2" x="239" y="89.5">117723</text><text class="n3" x="239" y="102.5">14.62%</text></g>
<g id="m78" transform="translate(271.5,0)"><text class="mn" x="1" y="-7.5">78</text><use href="#D0"/><text class="n1" x="239" y="76.5">418</text><text class="n2" x="239" y="89.5">120867</text><text class="n3" x="239" y="102.5">2.12%</text></g>
<g id="m79" transform="translate(511.5,0)"><text class="tp" x="1" y="-20.5">♩=118</text><text class="mn" x="1" y="-7.5">79</text><rect class="sg" x="180" y="-3.25" width="45" height="6.5"/><rect class="sy" x="180" y="26.75" width="45" height="6.5"/><use href="#A0"/><use href="#G" x="150"/><use href="#G" x="180"/><use href="#Y" x="180"/><text class="n1" x="239" y="76.5">286</text><text class="n2" x="239" y="89.5">123155</text><text class="n3" x="239" y="102.5">0.00%</text></g>
<g id="m80" transform="translate(751.5,0)"><text class="tp" x="1" y="-20.5">♩=119</text><text class="mn" x="1" y="-7.5">80</text><use href="#Q4"/><use href="#Q4" x="120"/><text class="n1" x="239" y="76.5">400</text><text class="n2" x="239" y="89.5">126355</text><text class="n3" x="239" y="102.5">0.00%</text></g>
<rect class="ob" x="31.5" width="960" height="60"/>
</g>

<g id="r21" transform="translate(0,3025.5)">
<use href="#grid" x="31.5"/>
<g id="m81" transform="translate(31.5,0)"><text class="tp" x="1" y="-20.5">♩=118</text><text class="mn" x="1" y="-7.5">81</text><use href="#Q4"/><text class="n1" x="239" y="76.5">200</text><text class="n2" x="239" y="89.5">127955</text><text class="n3" x="239" y="102.5">0.00%</text></g>
<g id="m82" transform="translate(271.5,0)"><text class="mn" x="1" y="-7.5">82</text><rect class="sg" y="-3.25" width="660" height="6.5"/><rect class="sr" y="11.75" width="660" height="6.5"/><use href="#G"/><use href="#R"/><text class="n1" x="239" y="76.5">146</text><text class="n2" x="239" y="89.5">128539</text><text class="n3" x="239" y="102.5">0.00%</text></g>
<g id="m83" transform="translate(511.5,0)"><text class="mn" x="1" y="-7.5">83</text><text class="n1" x="239" y="76.5">96</text><text class="n2" x="239" y="89.5">128923</text><text class="n3" x="239" y="102.5">0.00%</text></g>
<g id="m84" transform="translate(751.5,0)"><text class="mn" x="1" y="-7.5">84</text><text class="n1" x="239" y="76.5">72</text><text class="n2" x="239" y="89.5">129211</text><text class="n3" x="239" y="102.5">0.00%</text></g>
<rect class="ob" x="31.5" width="41" height="60"/>
<rect class="op" x="72.5" width="4" height="60"/>
</g>
</svg>
